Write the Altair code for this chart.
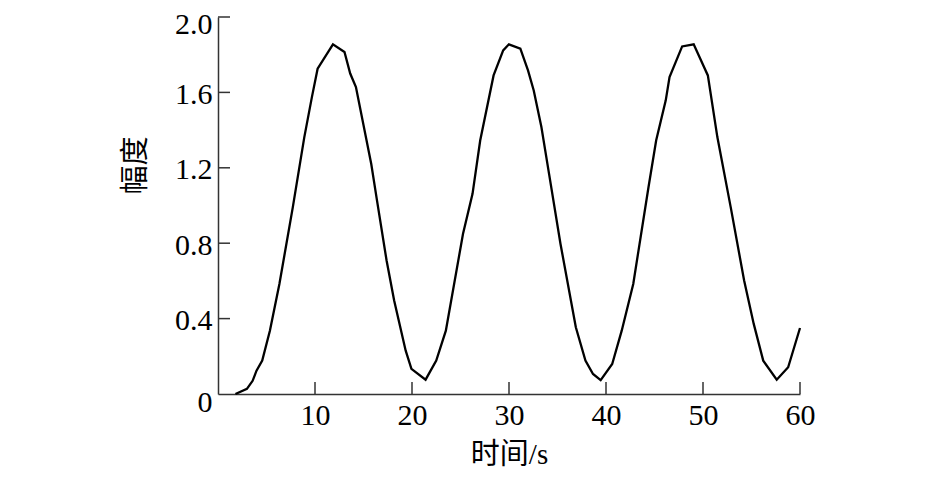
import altair as alt
import pandas as pd

t = [1.8, 2.98, 3.57, 3.97, 4.56, 5.35, 6.33, 7.71, 8.89, 9.68, 10.27, 11.85, 13.04, 13.63, 14.22,
     15.8, 16.39, 17.38, 18.16, 19.35, 19.94, 21.4, 22.5, 23.49, 25.26, 26.24, 27.03, 28.41, 29.4,
     29.99, 31.17, 31.96, 32.55, 33.34, 34.13, 35.31, 36.89, 37.88, 38.66, 39.45, 40.64, 41.62,
     42.81, 44.38, 45.17, 46.16, 46.55, 47.85, 49.04, 50.5, 51.48, 52.86, 54.24, 55.23, 56.21,
     57.6, 58.78, 60.0]
amp = [0.0, 0.027, 0.07, 0.124, 0.177, 0.336, 0.584, 0.99, 1.36, 1.575, 1.726, 1.855, 1.814, 1.70,
       1.628, 1.22, 1.027, 0.708, 0.496, 0.23, 0.133, 0.076, 0.177, 0.336, 0.85, 1.062, 1.345, 1.69,
       1.823, 1.855, 1.832, 1.717, 1.61, 1.416, 1.168, 0.796, 0.354, 0.177, 0.106, 0.074, 0.159,
       0.336, 0.584, 1.097, 1.345, 1.558, 1.681, 1.844, 1.855, 1.69, 1.363, 0.99, 0.602, 0.372,
       0.177, 0.076, 0.142, 0.35]

x_ticks = [10, 20, 30, 40, 50, 60]
y_ticks = [0.0, 0.4, 0.8, 1.2, 1.6, 2.0]

df = pd.DataFrame({"t": t, "amp": amp})
dfx = pd.DataFrame({"t": x_ticks})
dfy = pd.DataFrame({"amp": y_ticks[1:]})

W, H = 582, 377
FONT = "Liberation Serif, Times New Roman, Noto Sans CJK SC"

xscale = alt.Scale(domain=[0, 60], nice=False)
yscale = alt.Scale(domain=[0, 2.0], nice=False)

line = alt.Chart(df).mark_line(color="black", strokeWidth=2.3).encode(
    x=alt.X("t:Q", scale=xscale,
            axis=alt.Axis(values=x_ticks, title="时间/s", tickSize=0, labelPadding=6,
                          labelFlush=False, labelBound=False, labelOverlap=False,
                          grid=False, titleY=46, titleBaseline="top")),
    y=alt.Y("amp:Q", scale=yscale,
            axis=alt.Axis(values=y_ticks, title="幅度", tickSize=0, labelPadding=6, grid=False,
                          labelFlush=False, labelBound=False, labelOverlap=False,
                          labelExpr="datum.value == 0 ? '0' : format(datum.value, '.1f')",
                          labelOffset=alt.expr("datum.value == 0 ? 8 : (datum.value == 2 ? 7 : 2)"),
                          titleX=-68, titleY=148, titleBaseline="bottom")),
)

xt = alt.Chart(dfx).mark_rule(color="#333", strokeWidth=1.5).encode(
    x=alt.X("t:Q", scale=xscale), y=alt.value(H), y2=alt.value(H - 12))
yt = alt.Chart(dfy).mark_rule(color="#333", strokeWidth=1.5).encode(
    y=alt.Y("amp:Q", scale=yscale), x=alt.value(0), x2=alt.value(12))

chart = alt.layer(line, xt, yt).properties(
    width=W, height=H,
    background="white",
    autosize=alt.AutoSizeParams(type="none"),
    padding={"left": 210, "top": 9, "right": 120, "bottom": 85},
).configure_view(stroke=None).configure_axis(
    domainColor="#333", domainWidth=1.5,
    labelFont=FONT, labelFontSize=30, labelColor="black",
    titleFont=FONT, titleFontSize=29, titleColor="black", titleFontWeight="normal",
).configure_axisX(labelBaseline="top")

chart.save("out.html", embed_options={"renderer": "svg", "actions": False})
